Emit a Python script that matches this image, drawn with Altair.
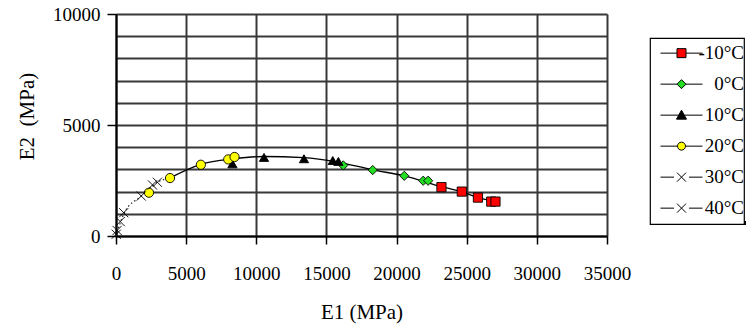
import altair as alt
import pandas as pd

series_names = ["-10°C", "0°C", "10°C", "20°C", "30°C", "40°C"]

m10_e1 = [23200, 24650, 25800, 26750, 27050]
m10_e2 = [2200, 2000, 1730, 1550, 1550]
p0_e1 = [16200, 18300, 20550, 21900, 22250]
p0_e2 = [3180, 2970, 2710, 2490, 2490]
p10_e1 = [8300, 10550, 13400, 15450, 15850]
p10_e2 = [3250, 3540, 3480, 3400, 3360]
p20_e1 = [2350, 3850, 6050, 8000, 8450]
p20_e2 = [1950, 2610, 3210, 3450, 3560]
p30_e1 = [2950, 1800, 550, 80]
p30_e2 = [2420, 1800, 1050, 250]
p40_e1 = [2600, 300, 20]
p40_e2 = [2300, 650, 80]

# trend curves
curve_e1 = [3850, 6050, 8400, 10500, 13400, 15800, 18300, 20550, 23200, 24650, 25800, 27050]
curve_e2 = [2620, 3230, 3480, 3580, 3530, 3330, 2980, 2710, 2220, 1990, 1730, 1550]
dot_e1 = [0, 600, 1800, 2950, 3850]
dot_e2 = [0, 1050, 1800, 2420, 2620]

x_ticks = [0, 5000, 10000, 15000, 20000, 25000, 30000, 35000]
y_grid = [0, 1000, 2000, 3000, 4000, 5000, 6000, 7000, 8000, 9000, 10000]

fills = ["#ff0000", "#22dd22", "#000000", "#ffff00", "transparent", "transparent"]
CROSS = "M-1,-1L1,1M-1,1L1,-1"
point_shapes = ["square", "diamond", "triangle-up", "circle", CROSS, CROSS]
legend_shapes = [
    "M-4.2,0H-0.9M0.9,0H4.2M-0.9,-0.9H0.9V0.9H-0.9Z",
    "M-4.2,0H-0.9M0.9,0H4.2M-0.9,0L0,-0.9L0.9,0L0,0.9Z",
    "M-4.2,0H-0.45M0.45,0H4.2M-1,0.8L0,-1L1,0.8Z",
    "M-4.2,0H-0.8M0.8,0H4.2M-0.8,0A0.8,0.8 0 1,1 0.8,0A0.8,0.8 0 1,1 -0.8,0Z",
    "M-4.2,0H-1.5M1.5,0H4.2M-0.9,-0.9L0.9,0.9M-0.9,0.9L0.9,-0.9",
    "M-4.2,0H-1.5M1.5,0H4.2M-0.9,-0.9L0.9,0.9M-0.9,0.9L0.9,-0.9",
]

rows = []
for name, xs, ys in zip(series_names,
                        [m10_e1, p0_e1, p10_e1, p20_e1, p30_e1, p40_e1],
                        [m10_e2, p0_e2, p10_e2, p20_e2, p30_e2, p40_e2]):
    for a, b in zip(xs, ys):
        rows.append({"series": name, "E1": a, "E2": b})
df = pd.DataFrame(rows)
curve_df = pd.DataFrame({"E1": curve_e1, "E2": curve_e2})
dot_df = pd.DataFrame({"E1": dot_e1, "E2": dot_e2})

FONT = "Liberation Serif"

x_axis = alt.Axis(values=x_ticks, title="E1 (MPa)", format="d", grid=True,
                  labelFont=FONT, labelFontSize=19, labelColor="black", labelOverlap=False,
                  labelFlush=False, tickSize=8, labelPadding=20,
                  titleFont=FONT, titleFontSize=21, titleFontWeight="normal", titleColor="black",
                  titleY=82, titleBaseline="alphabetic")
y_axis = alt.Axis(values=y_grid, title="E2\u00a0 (MPa)", format="d", grid=True,
                  labelExpr="datum.value % 5000 == 0 ? datum.label : ''",
                  tickOpacity={"condition": {"test": "datum.value % 5000 == 0", "value": 1}, "value": 0},
                  labelFont=FONT, labelFontSize=19, labelColor="black", labelOverlap=False,
                  labelFlush=False, tickSize=9, labelPadding=7,
                  titleFont=FONT, titleFontSize=21, titleFontWeight="normal", titleColor="black",
                  titleX=-83, titleY=102, titleAngle=-90,
                  titleAlign="center", titleBaseline="alphabetic")
x_scale = alt.Scale(domain=[0, 35000], nice=False)
y_scale = alt.Scale(domain=[0, 10000], nice=False)
x_enc = alt.X("E1:Q", scale=x_scale, axis=x_axis)
y_enc = alt.Y("E2:Q", scale=y_scale, axis=y_axis)

solid = alt.Chart(curve_df).mark_line(color="black", strokeWidth=1.3, interpolate="monotone").encode(
    x=x_enc, y=y_enc)
dotted = alt.Chart(dot_df).mark_line(color="#333333", strokeWidth=1.3, strokeDash=[1.5, 2.5],
                                     interpolate="monotone").encode(x=x_enc, y=y_enc)

points = alt.Chart(df).mark_point(filled=True, opacity=1, strokeWidth=0.9, size=85).encode(
    x=x_enc, y=y_enc,
    shape=alt.Shape("series:N", scale=alt.Scale(domain=series_names, range=point_shapes), legend=None),
    fill=alt.Fill("series:N", scale=alt.Scale(domain=series_names, range=fills), legend=None),
    stroke=alt.Stroke("series:N", scale=alt.Scale(domain=series_names, range=["black"] * 6), legend=None),
)

legend_def = alt.Legend(
    title=None, orient="none", legendX=534, legendY=24,
    padding=0, strokeColor="black", fillColor="white",
    symbolSize=100, symbolOffset=22, symbolStrokeWidth=1,
    labelFont=FONT, labelFontSize=19, labelColor="black", labelAlign="right",
    labelOffset=53, clipHeight=30.3, rowPadding=0,
)
legend_layer = alt.Chart(df).transform_calculate(leg="datum.series").transform_filter("false").mark_point(
    filled=True, opacity=1, strokeWidth=1).encode(
    x=x_enc, y=y_enc,
    shape=alt.Shape("leg:N", scale=alt.Scale(domain=series_names, range=legend_shapes), legend=legend_def),
    fill=alt.Fill("leg:N", scale=alt.Scale(domain=series_names, range=fills), legend=legend_def),
    stroke=alt.Stroke("leg:N", scale=alt.Scale(domain=series_names, range=["black"] * 6), legend=legend_def),
)

shadow = alt.Chart(pd.DataFrame({"k": [0]})).mark_rule(color="black", strokeWidth=4).encode(
    x=alt.value(537), x2=alt.value(640), y=alt.value(209))

chart = alt.layer(solid, dotted, points, legend_layer, shadow).resolve_scale(
    shape="independent", fill="independent", stroke="independent"
).properties(
    width=491, height=222,
    autosize=alt.AutoSizeParams(type="none"),
    padding={"left": 116, "top": 14, "right": 139, "bottom": 89},
).configure(font=FONT).configure_view(stroke=None).configure_axis(
    gridColor="#383838", gridWidth=2, gridOpacity=1,
    domainColor="black", domainWidth=2, tickColor="black", tickWidth=1.5,
).configure_legend(strokeWidth=1.2)

chart.save("out.html", embed_options={"renderer": "svg", "actions": False})
